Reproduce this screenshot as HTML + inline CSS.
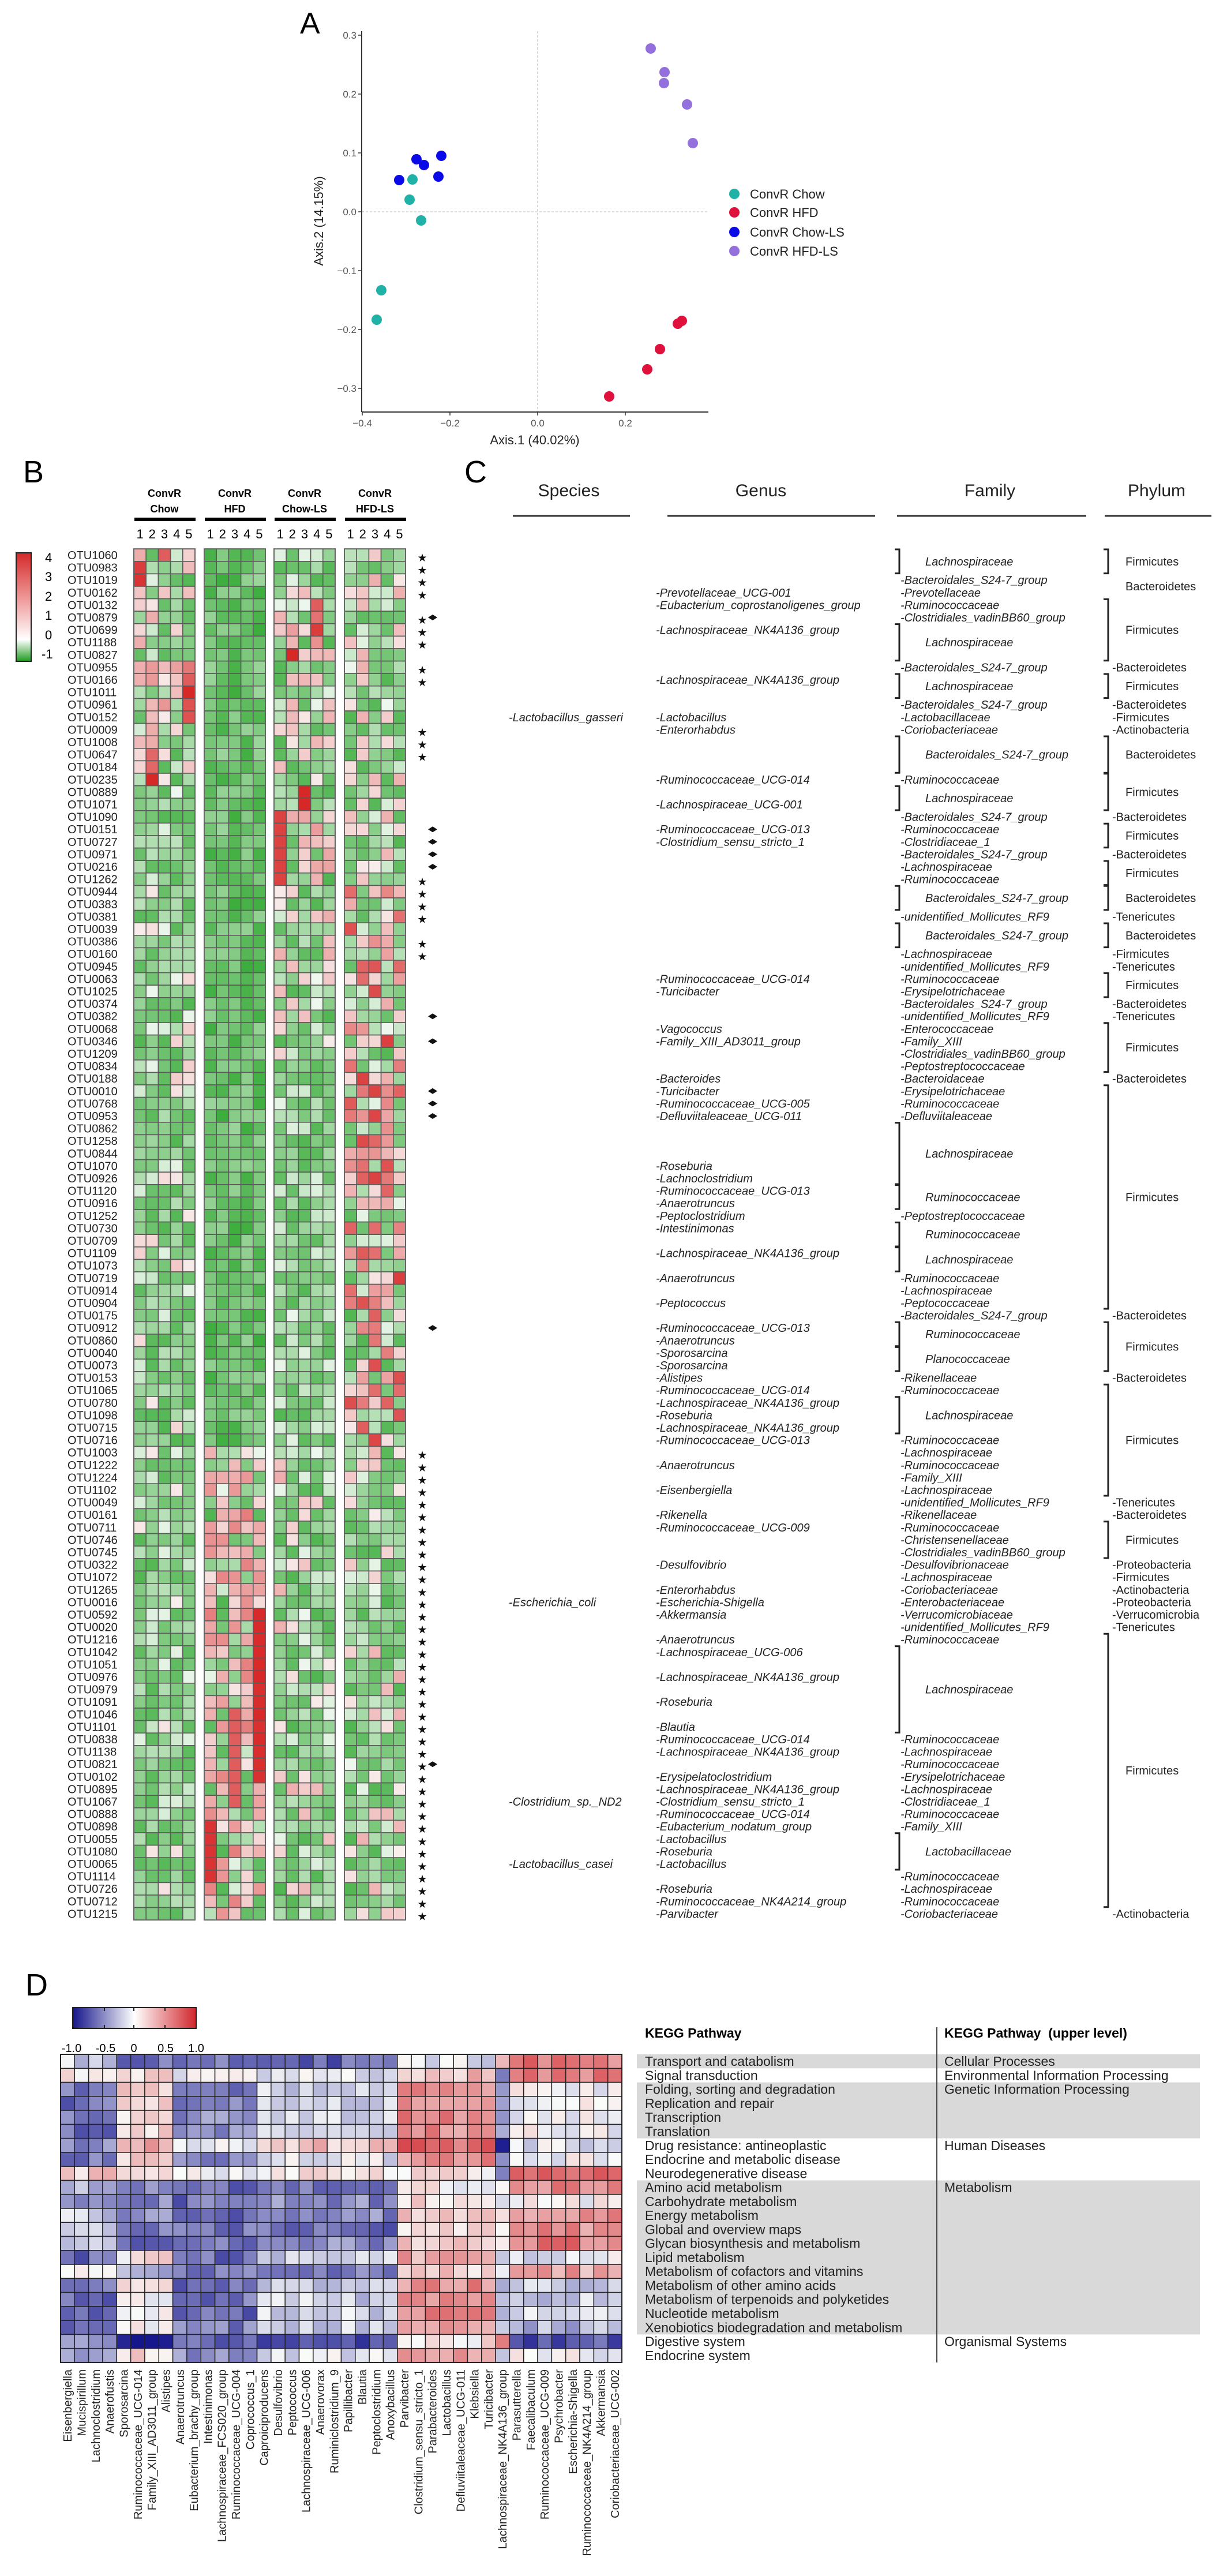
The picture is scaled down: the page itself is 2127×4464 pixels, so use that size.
<!DOCTYPE html>
<html><head><meta charset="utf-8">
<style>
html,body{margin:0;padding:0;background:#fff;}
svg{display:block;font-family:"Liberation Sans",Arial,sans-serif;}
</style></head>
<body>
<svg id="s" xmlns="http://www.w3.org/2000/svg" width="2127" height="4464" viewBox="0 0 2127 4464">
<rect width="2127" height="4464" fill="#fff"/>
<defs>
<linearGradient id="gb" x1="0" y1="0" x2="0" y2="1">
<stop offset="0" stop-color="#d42a2a"/><stop offset="0.45" stop-color="#f0a0a0"/><stop offset="0.8" stop-color="#ffffff"/><stop offset="1" stop-color="#1f9a1f"/></linearGradient>
<linearGradient id="gd" x1="0" y1="0" x2="1" y2="0">
<stop offset="0" stop-color="#14148a"/><stop offset="0.5" stop-color="#ffffff"/><stop offset="1" stop-color="#d0262c"/></linearGradient>
</defs>
<text x="520" y="58" font-size="52">A</text>
<text x="40" y="836" font-size="54">B</text>
<text x="805" y="836" font-size="54">C</text>
<text x="44" y="3458" font-size="54">D</text>
<g id="g"></g>
</svg>
<script>
(function(){
var G=document.getElementById("g"),out=[];
function el(s){out.push(s);}
function esc(t){return t.replace(/&/g,"&amp;").replace(/</g,"&lt;");}
function txt(x,y,t,a){el('<text x="'+x+'" y="'+y+'" '+(a||'')+'>'+esc(t)+'</text>');}
var seed=12345;function rnd(){seed|=0;seed=seed+0x6D2B79F5|0;var t=Math.imul(seed^seed>>>15,1|seed);t=t+Math.imul(t^t>>>7,61|t)^t;return((t^t>>>14)>>>0)/4294967296;}
function mix(a,b,t){return'rgb('+Math.round(a[0]+(b[0]-a[0])*t)+','+Math.round(a[1]+(b[1]-a[1])*t)+','+Math.round(a[2]+(b[2]-a[2])*t)+')';}

/* ---------- Panel A ---------- */
var X0=932,XS=760,Y0=367,YS=1020;
function px(v){return X0+v*XS;} function py(v){return Y0-v*YS;}
el('<line x1="932" y1="54" x2="932" y2="714" stroke="#ccc" stroke-width="1.5" stroke-dasharray="4,3"/>');
el('<line x1="627" y1="367" x2="1228" y2="367" stroke="#ccc" stroke-width="1.5" stroke-dasharray="4,3"/>');
el('<line x1="627" y1="54" x2="627" y2="714" stroke="#333" stroke-width="2"/>');
el('<line x1="627" y1="714" x2="1228" y2="714" stroke="#333" stroke-width="2"/>');
[0.3,0.2,0.1,0.0,-0.1,-0.2,-0.3].forEach(function(v){var y=py(v);el('<line x1="621" y1="'+y+'" x2="627" y2="'+y+'" stroke="#333" stroke-width="1.5"/>');txt(618,y+6,v.toFixed(1).replace('-','\u2212'),'font-size="17" fill="#555" text-anchor="end"');});
[-0.4,-0.2,0.0,0.2].forEach(function(v){var x=px(v);el('<line x1="'+x+'" y1="714" x2="'+x+'" y2="720" stroke="#333" stroke-width="1.5"/>');txt(x,739,v.toFixed(1).replace('-','\u2212'),'font-size="17" fill="#555" text-anchor="middle"');});
txt(927,770,'Axis.1 (40.02%)','font-size="22" text-anchor="middle" fill="#222"');
el('<text transform="translate(560,383) rotate(-90)" font-size="22" text-anchor="middle" fill="#222">Axis.2 (14.15%)</text>');
var pts={"#9370db":[[1128,84],[1152,125],[1151,144],[1191,181],[1201,248]],
"#0a0ae8":[[722,276],[735,286],[765,270],[692,312],[760,306]],
"#20b2a6":[[715,311],[710,346],[730,382],[661,503],[653,554]],
"#e0103c":[[1182,556],[1175,561],[1144,605],[1122,640],[1056,687]]};
for(var c in pts)pts[c].forEach(function(p){el('<ellipse cx="'+p[0]+'" cy="'+p[1]+'" rx="9" ry="9" fill="'+c+'"/>');});
[["#20b2a6","ConvR Chow",336],["#e0103c","ConvR HFD",368],["#0a0ae8","ConvR Chow-LS",402],["#9370db","ConvR HFD-LS",435]].forEach(function(l){el('<circle cx="1273" cy="'+l[2]+'" r="9" fill="'+l[0]+'"/>');txt(1300,l[2]+8,l[1],'font-size="22" fill="#222"');});

/* ---------- Panel B ---------- */
var otus="1060,0983,1019,0162,0132,0879,0699,1188,0827,0955,0166,1011,0961,0152,0009,1008,0647,0184,0235,0889,1071,1090,0151,0727,0971,0216,1262,0944,0383,0381,0039,0386,0160,0945,0063,1025,0374,0382,0068,0346,1209,0834,0188,0010,0768,0953,0862,1258,0844,1070,0926,1120,0916,1252,0730,0709,1109,1073,0719,0914,0904,0175,0912,0860,0040,0073,0153,1065,0780,1098,0715,0716,1003,1222,1224,1102,0049,0161,0711,0746,0745,0322,1072,1265,0016,0592,0020,1216,1042,1051,0976,0979,1091,1046,1101,0838,1138,0821,0102,0895,1067,0888,0898,0055,1080,0065,1114,0726,0712,1215".split(",");
var RY0=962,RH=21.6,CW=21.2,GX=[232,354,475,597];
function ry(r){return RY0+RH*r;}
var G1=[40,165,40],W=[250,252,250],R=[215,40,40];
function colB(v){if(v<0)return mix(W,G1,Math.min(1,-v));return mix(W,R,Math.min(1,v/4));}
function base(){var u=rnd();if(u<0.12)return -0.05-0.2*rnd();return -0.3-0.5*rnd();}
function pink(p,lo,hi){return rnd()<p?lo+(hi-lo)*rnd():null;}
for(var r=0;r<110;r++){
 for(var g=0;g<4;g++)for(var k=0;k<5;k++){
  var v=base(),pv=null;
  if(g==1&&r<72)v=-0.45-0.45*rnd();
  if(r<=2&&g==0){pv=[[1.5,0,3,0,0.8],[3.6,0,0,0,1.2],[3.8,0,0,0,0]][r][k]||null;}
  if(r>=3&&r<=8&&g==2){pv=pink(0.45,0.4,2.2);if(r==4&&k==3)pv=3;if(r==5&&k==3)pv=2.6;if(r==6&&k==3)pv=3.6;if(r==8&&k==1)pv=4;}
  if(r>=3&&r<=8&&g==0)pv=pink(0.3,0.3,1.5);
  if(r>=9&&r<=13&&g==0){pv=pink(0.4,0.3,2);if(k==4)pv=[2.5,3,4,3.2,3.2][r-9];}
  if(r>=14&&r<=18&&g==0){pv=pink(0.35,0.3,1.5);if(k==1)pv=[1.5,1.5,2.8,2.8,4][r-14];}
  if(r>=9&&r<=18&&g==2)pv=pink(0.35,0.3,1.4);
  if(r>=19&&r<=20&&g==2&&k==2)pv=4;
  if(r>=21&&r<=26&&g==2){pv=pink(0.45,0.3,1.8);if(k==0)pv=3.5;}
  if(r>=27&&r<=71&&g==3)pv=pink(0.55,0.4,3.6);
  if(r>=27&&r<=40&&g==2)pv=pink(0.3,0.3,1.5);
  if(r>=27&&r<=71&&g==0)pv=pink(0.08,0.2,1);
  if(r>=0&&r<=26&&g==3)pv=pink(0.25,0.2,1.5);
  if(r>=72&&g==1){pv=pink(0.6,0.4,2.4);if(r>=85&&r<=98&&k==4)pv=3.8+0.2*rnd();if(r>=93&&r<=100&&k==2)pv=3;if(r>=102&&r<=106&&k==0)pv=3.8;}
  if(r>=72&&(g==2||g==3))pv=pink(0.15,0.2,1.5);
  if(r>=72&&g==0)pv=pink(0.04,0.2,0.5);
  if(pv!==null&&pv!==0)v=pv;
  el('<rect x="'+(GX[g]+k*CW)+'" y="'+(ry(r)-RH/2)+'" width="'+CW+'" height="'+RH+'" fill="'+colB(v)+'" stroke="#5a5a5a" stroke-width="1.6"/>');
 }
 txt(117,ry(r)+7,'OTU'+otus[r],'font-size="20" fill="#222"');
}
for(var g=0;g<4;g++)el('<rect x="'+GX[g]+'" y="'+(ry(0)-RH/2)+'" width="'+(5*CW)+'" height="'+(110*RH)+'" fill="none" stroke="#666" stroke-width="2"/>');
var hdr=[["ConvR","Chow"],["ConvR","HFD"],["ConvR","Chow-LS"],["ConvR","HFD-LS"]];
for(var g=0;g<4;g++){var cx=GX[g]+2.5*CW;txt(cx,861,hdr[g][0],'font-size="18" font-weight="bold" text-anchor="middle"');txt(cx,888,hdr[g][1],'font-size="18" font-weight="bold" text-anchor="middle"');
 el('<rect x="'+(GX[g]+1)+'" y="897" width="'+(5*CW)+'" height="6" fill="#000"/>');
 for(var k=0;k<5;k++)txt(GX[g]+k*CW+CW/2,933,''+(k+1),'font-size="22" text-anchor="middle"');}
el('<rect x="28" y="958" width="26" height="188" fill="url(#gb)" stroke="#222" stroke-width="2"/>');
[["4",966],["3",999],["2",1033],["1",1066],["0",1100],["-1",1133]].forEach(function(l){txt(l[0]=="-1"?72:78,l[1]+8,l[0],'font-size="22"');});
var stars=[0,1,2,3,5,6,7,9,10,14,15,16,26,27,28,29,31,32];for(var r=72;r<110;r++)stars.push(r);
var dia=[5,22,23,24,25,37,39,43,44,45,62,97];
stars.forEach(function(r){txt(732,ry(r)+11,'\u2605','font-size="19" text-anchor="middle" fill="#111"');});
dia.forEach(function(r){el('<path d="M742 '+ry(r)+' L750 '+(ry(r)-5)+' L758 '+ry(r)+' L750 '+(ry(r)+5)+' Z" fill="#111"/>');});

/* ---------- Panel C ---------- */
[["Species",986,889,1092],["Genus",1319,1157,1517],["Family",1716,1555,1883],["Phylum",2005,1915,2100]].forEach(function(h){txt(h[1],860,h[0],'font-size="30" text-anchor="middle" fill="#222"');el('<line x1="'+h[2]+'" y1="894" x2="'+h[3]+'" y2="894" stroke="#333" stroke-width="3"/>');});
var cf='font-size="20" font-style="italic" fill="#222"';
[[13,"Lactobacillus_gasseri"],[84,"Escherichia_coli"],[100,"Clostridium_sp._ND2"],[105,"Lactobacillus_casei"]].forEach(function(s){txt(882,ry(s[0])+7,'-'+s[1],cf);});
var gen=[[3,"Prevotellaceae_UCG-001"],[4,"Eubacterium_coprostanoligenes_group"],[6,"Lachnospiraceae_NK4A136_group"],[10,"Lachnospiraceae_NK4A136_group"],[13,"Lactobacillus"],[14,"Enterorhabdus"],[18,"Ruminococcaceae_UCG-014"],[20,"Lachnospiraceae_UCG-001"],[22,"Ruminococcaceae_UCG-013"],[23,"Clostridium_sensu_stricto_1"],[34,"Ruminococcaceae_UCG-014"],[35,"Turicibacter"],[38,"Vagococcus"],[39,"Family_XIII_AD3011_group"],[42,"Bacteroides"],[43,"Turicibacter"],[44,"Ruminococcaceae_UCG-005"],[45,"Defluviitaleaceae_UCG-011"],[49,"Roseburia"],[50,"Lachnoclostridium"],[51,"Ruminococcaceae_UCG-013"],[52,"Anaerotruncus"],[53,"Peptoclostridium"],[54,"Intestinimonas"],[56,"Lachnospiraceae_NK4A136_group"],[58,"Anaerotruncus"],[60,"Peptococcus"],[62,"Ruminococcaceae_UCG-013"],[63,"Anaerotruncus"],[64,"Sporosarcina"],[65,"Sporosarcina"],[66,"Alistipes"],[67,"Ruminococcaceae_UCG-014"],[68,"Lachnospiraceae_NK4A136_group"],[69,"Roseburia"],[70,"Lachnospiraceae_NK4A136_group"],[71,"Ruminococcaceae_UCG-013"],[73,"Anaerotruncus"],[75,"Eisenbergiella"],[77,"Rikenella"],[78,"Ruminococcaceae_UCG-009"],[81,"Desulfovibrio"],[83,"Enterorhabdus"],[84,"Escherichia-Shigella"],[85,"Akkermansia"],[87,"Anaerotruncus"],[88,"Lachnospiraceae_UCG-006"],[90,"Lachnospiraceae_NK4A136_group"],[92,"Roseburia"],[94,"Blautia"],[95,"Ruminococcaceae_UCG-014"],[96,"Lachnospiraceae_NK4A136_group"],[98,"Erysipelatoclostridium"],[99,"Lachnospiraceae_NK4A136_group"],[100,"Clostridium_sensu_stricto_1"],[101,"Ruminococcaceae_UCG-014"],[102,"Eubacterium_nodatum_group"],[103,"Lactobacillus"],[104,"Roseburia"],[105,"Lactobacillus"],[107,"Roseburia"],[108,"Ruminococcaceae_NK4A214_group"],[109,"Parvibacter"]];
gen.forEach(function(s){txt(1137,ry(s[0])+7,'-'+s[1],cf);});
function bracket(x,r0,r1){var y0=ry(r0)-10,y1=ry(r1)+10;el('<path d="M'+(x-8)+' '+y0+' L'+x+' '+y0+' L'+x+' '+y1+' L'+(x-8)+' '+y1+'" fill="none" stroke="#222" stroke-width="3"/>');}
var fam=[[0,1,"Lachnospiraceae"],[2,"Bacteroidales_S24-7_group"],[3,"Prevotellaceae"],[4,"Ruminococcaceae"],[5,"Clostridiales_vadinBB60_group"],[6,8,"Lachnospiraceae"],[9,"Bacteroidales_S24-7_group"],[10,11,"Lachnospiraceae"],[12,"Bacteroidales_S24-7_group"],[13,"Lactobacillaceae"],[14,"Coriobacteriaceae"],[15,17,"Bacteroidales_S24-7_group"],[18,"Ruminococcaceae"],[19,20,"Lachnospiraceae"],[21,"Bacteroidales_S24-7_group"],[22,"Ruminococcaceae"],[23,"Clostridiaceae_1"],[24,"Bacteroidales_S24-7_group"],[25,"Lachnospiraceae"],[26,"Ruminococcaceae"],[27,28,"Bacteroidales_S24-7_group"],[29,"unidentified_Mollicutes_RF9"],[30,31,"Bacteroidales_S24-7_group"],[32,"Lachnospiraceae"],[33,"unidentified_Mollicutes_RF9"],[34,"Ruminococcaceae"],[35,"Erysipelotrichaceae"],[36,"Bacteroidales_S24-7_group"],[37,"unidentified_Mollicutes_RF9"],[38,"Enterococcaceae"],[39,"Family_XIII"],[40,"Clostridiales_vadinBB60_group"],[41,"Peptostreptococcaceae"],[42,"Bacteroidaceae"],[43,"Erysipelotrichaceae"],[44,"Ruminococcaceae"],[45,"Defluviitaleaceae"],[46,50,"Lachnospiraceae"],[51,52,"Ruminococcaceae"],[53,"Peptostreptococcaceae"],[54,55,"Ruminococcaceae"],[56,57,"Lachnospiraceae"],[58,"Ruminococcaceae"],[59,"Lachnospiraceae"],[60,"Peptococcaceae"],[61,"Bacteroidales_S24-7_group"],[62,63,"Ruminococcaceae"],[64,65,"Planococcaceae"],[66,"Rikenellaceae"],[67,"Ruminococcaceae"],[68,70,"Lachnospiraceae"],[71,"Ruminococcaceae"],[72,"Lachnospiraceae"],[73,"Ruminococcaceae"],[74,"Family_XIII"],[75,"Lachnospiraceae"],[76,"unidentified_Mollicutes_RF9"],[77,"Rikenellaceae"],[78,"Ruminococcaceae"],[79,"Christensenellaceae"],[80,"Clostridiales_vadinBB60_group"],[81,"Desulfovibrionaceae"],[82,"Lachnospiraceae"],[83,"Coriobacteriaceae"],[84,"Enterobacteriaceae"],[85,"Verrucomicrobiaceae"],[86,"unidentified_Mollicutes_RF9"],[87,"Ruminococcaceae"],[88,94,"Lachnospiraceae"],[95,"Ruminococcaceae"],[96,"Lachnospiraceae"],[97,"Ruminococcaceae"],[98,"Erysipelotrichaceae"],[99,"Lachnospiraceae"],[100,"Clostridiaceae_1"],[101,"Ruminococcaceae"],[102,"Family_XIII"],[103,105,"Lactobacillaceae"],[106,"Ruminococcaceae"],[107,"Lachnospiraceae"],[108,"Ruminococcaceae"],[109,"Coriobacteriaceae"]];
fam.forEach(function(f){if(f.length==3){bracket(1559,f[0],f[1]);txt(1604,(ry(f[0])+ry(f[1]))/2+7,f[2],cf);}else txt(1561,ry(f[0])+7,'-'+f[1],cf);});
var pf='font-size="20" fill="#222"';
var phy=[[0,1,"Firmicutes"],[4,8,"Firmicutes"],[9,"Bacteroidetes"],[10,11,"Firmicutes"],[12,"Bacteroidetes"],[13,"Firmicutes"],[14,"Actinobacteria"],[15,17,"Bacteroidetes"],[18,20,"Firmicutes"],[21,"Bacteroidetes"],[22,23,"Firmicutes"],[24,"Bacteroidetes"],[25,26,"Firmicutes"],[27,28,"Bacteroidetes"],[29,"Tenericutes"],[30,31,"Bacteroidetes"],[32,"Firmicutes"],[33,"Tenericutes"],[34,35,"Firmicutes"],[36,"Bacteroidetes"],[37,"Tenericutes"],[38,41,"Firmicutes"],[42,"Bacteroidetes"],[43,60,"Firmicutes"],[61,"Bacteroidetes"],[62,65,"Firmicutes"],[66,"Bacteroidetes"],[67,75,"Firmicutes"],[76,"Tenericutes"],[77,"Bacteroidetes"],[78,80,"Firmicutes"],[81,"Proteobacteria"],[82,"Firmicutes"],[83,"Actinobacteria"],[84,"Proteobacteria"],[85,"Verrucomicrobia"],[86,"Tenericutes"],[87,108,"Firmicutes"],[109,"Actinobacteria"]];
phy.forEach(function(f){if(f.length==3){bracket(1921,f[0],f[1]);txt(1951,(ry(f[0])+ry(f[1]))/2+7,f[2],pf);}else txt(1928,ry(f[0])+7,'-'+f[1],pf);});
txt(1951,(ry(2)+ry(3))/2+7,"Bacteroidetes",pf);

/* ---------- Panel D ---------- */
el('<rect x="126" y="3479" width="214" height="36" fill="url(#gd)" stroke="#222" stroke-width="2"/>');
[181,232,286].forEach(function(x){el('<line x1="'+x+'" y1="3479" x2="'+x+'" y2="3485" stroke="#222" stroke-width="2"/><line x1="'+x+'" y1="3509" x2="'+x+'" y2="3515" stroke="#222" stroke-width="2"/>');});
[["-1.0",124],["-0.5",183],["0",232],["0.5",287],["1.0",340]].forEach(function(l){txt(l[1],3556,l[0],'font-size="20" text-anchor="middle"');});
var cols=["Eisenbergiella","Mucispirillum","Lachnoclostridium","Anaerofustis","Sporosarcina","Ruminococcaceae_UCG-014","Family_XIII_AD3011_group","Alistipes","Anaerotruncus","Eubacterium_brachy_group","Intestinimonas","Lachnospiraceae_FCS020_group","Ruminococcaceae_UCG-004","Coprococcus_1","Caproiciproducens","Desulfovibrio","Peptococcus","Lachnospiraceae_UCG-006","Anaerovorax","Ruminiclostridium_9","Papillibacter","Blautia","Peptoclostridium","Anoxybacillus","Parvibacter","Clostridium_sensu_stricto_1","Parabacteroides","Lactobacillus","Defluviitaleaceae_UCG-011","Klebsiella","Turicibacter","Lachnospiraceae_NK4A136_group","Parasutterella","Faecalibaculum","Ruminococcaceae_UCG-009","Psychrobacter","Escherichia-Shigella","Ruminococcaceae_NK4A214_group","Akkermansia","Coriobacteriaceae_UCG-002"];
var NC=cols.length,DX=105,DY=3560,DW=973/NC,DH=24.27;
var grp=function(c){return c<4?0:c<8?1:c<14?2:c<24?3:c<31?4:c==31?5:6;};
var B=[[-0.2,-0.6,-0.6,-0.65,-0.1,0.3,0.6],[0.05,0.2,-0.1,-0.1,0.3,-0.4,0.6],[-0.6,0.2,-0.5,-0.15,0.5,-0.5,0],[-0.6,0.2,-0.5,-0.15,0.5,-0.5,0],[-0.6,0.2,-0.5,-0.15,0.55,-0.5,0],[-0.6,0.2,-0.5,-0.15,0.5,-0.5,0],[-0.5,0.45,0,0.25,0.7,-0.8,-0.1],[-0.6,0.15,-0.5,-0.1,0.5,-0.4,0],[0.2,0.1,0,0.1,0.1,-0.4,0.7],[-0.3,-0.5,-0.6,-0.6,0.05,0,0.55],[-0.6,-0.5,-0.6,-0.5,0.2,-0.3,0],[-0.2,-0.5,-0.6,-0.5,0.2,0,0.5],[-0.1,-0.6,-0.6,-0.6,0.2,0,0.5],[-0.2,-0.6,-0.6,-0.5,0.2,0,0.6],[-0.6,0.1,-0.6,-0.2,0.4,-0.3,-0.1],[-0.1,-0.4,-0.6,-0.5,0.2,0,0.4],[-0.65,0.05,-0.6,-0.2,0.5,-0.3,-0.2],[-0.65,0.05,-0.6,-0.2,0.5,-0.3,-0.2],[-0.65,0.05,-0.6,-0.2,0.5,-0.3,-0.2],[-0.65,0.05,-0.55,-0.2,0.5,-0.3,-0.3],[-0.5,-0.85,-0.6,-0.75,0.1,0.5,-0.7],[-0.5,0.2,-0.5,-0.1,0.4,-0.4,0]];
var BL=[20,20,140],RD=[208,38,44];
function colD(v){v=Math.max(-1,Math.min(1,v));return v<0?mix(W,BL,-v):mix(W,RD,v);}
for(var r=0;r<22;r++)for(var c=0;c<NC;c++){var v=B[r][grp(c)]+(rnd()-0.5)*0.35;
 el('<rect x="'+(DX+c*DW)+'" y="'+(DY+r*DH)+'" width="'+DW+'" height="'+DH+'" fill="'+colD(v)+'" stroke="#222" stroke-width="1.5"/>');}
el('<rect x="'+DX+'" y="'+DY+'" width="'+(NC*DW)+'" height="'+(22*DH)+'" fill="none" stroke="#222" stroke-width="2"/>');
for(var c=0;c<NC;c++){var x=DX+c*DW+DW/2+7;el('<text transform="translate('+x+',4106) rotate(-90)" font-size="20" text-anchor="end" fill="#222">'+esc(cols[c])+'</text>');}
[[0,1],[2,4],[9,11]].forEach(function(b){el('<rect x="1104" y="'+(DY+b[0]*DH)+'" width="976" height="'+(b[1]*DH)+'" fill="#d9d9d9"/>');});
el('<line x1="1624" y1="3513" x2="1624" y2="4094" stroke="#444" stroke-width="2"/>');
txt(1118,3531,"KEGG Pathway",'font-size="23" font-weight="bold"');
txt(1637,3531,"KEGG Pathway  (upper level)",'font-size="23" font-weight="bold" xml:space="preserve"');
var kp=["Transport and catabolism","Signal transduction","Folding, sorting and degradation","Replication and repair","Transcription","Translation","Drug resistance: antineoplastic","Endocrine and metabolic disease","Neurodegenerative disease","Amino acid metabolism","Carbohydrate metabolism","Energy metabolism","Global and overview maps","Glycan biosynthesis and metabolism","Lipid metabolism","Metabolism of cofactors and vitamins","Metabolism of other amino acids","Metabolism of terpenoids and polyketides","Nucleotide metabolism","Xenobiotics biodegradation and metabolism","Digestive system","Endocrine system"];
kp.forEach(function(t,i){txt(1118,DY+i*DH+DH/2+8,t,'font-size="23" fill="#222"');});
[[0,"Cellular Processes"],[1,"Environmental Information Processing"],[2,"Genetic Information Processing"],[6,"Human Diseases"],[9,"Metabolism"],[20,"Organismal Systems"]].forEach(function(u){txt(1637,DY+u[0]*DH+DH/2+8,u[1],'font-size="23" fill="#222"');});

G.innerHTML=out.join("");
})();
</script>
</body></html>
